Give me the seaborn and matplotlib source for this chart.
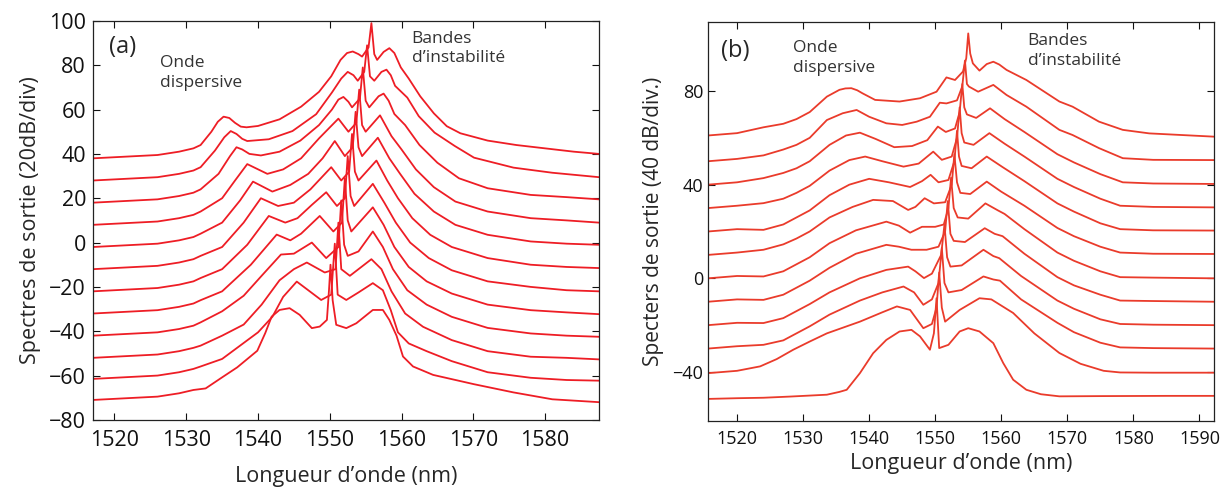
import pandas as pd
import matplotlib
matplotlib.use("Agg")
import matplotlib.pyplot as plt
import seaborn as sns

# ---- panel (a): 12 stacked spectra, 20 dB/div ----
offset_a = [38, 28, 18, 8, -2, -12, -22, -32, -42, -52, -61.5, -71]
wl_a = [
    [1517, 1520, 1523, 1526, 1529, 1531, 1532, 1533.5, 1534.4, 1535.2, 1536, 1536.8, 1537.6, 1538.4, 1540, 1543, 1546, 1548.5, 1550.2, 1551.5, 1552.4, 1553.2, 1554, 1554.5, 1555.4, 1555.8, 1556.2, 1556.6, 1557.5, 1558.3, 1559, 1559.9, 1561, 1562.6, 1564.5, 1566.3, 1568.2, 1572, 1576, 1580, 1584, 1587.5],
    [1517, 1520, 1523, 1526, 1529, 1531, 1532, 1534, 1535.3, 1536.2, 1537, 1537.8, 1538.5, 1541.5, 1544.8, 1548.1, 1550.3, 1551.6, 1552.5, 1553.3, 1553.9, 1554.8, 1555.2, 1555.6, 1556.2, 1557.2, 1557.9, 1558.5, 1559.1, 1560.8, 1562.4, 1564.6, 1567.4, 1570.1, 1575.6, 1581, 1587.5],
    [1517, 1520, 1523, 1526, 1529, 1531, 1532, 1534.5, 1536.1, 1537, 1537.8, 1538.8, 1540.4, 1543, 1545.9, 1548.5, 1550.3, 1551.2, 1551.9, 1552.6, 1553.1, 1554.2, 1554.6, 1555, 1555.5, 1556.8, 1557.5, 1558.2, 1559, 1560.5, 1562.5, 1565, 1568, 1572, 1578, 1583, 1587.5],
    [1517, 1520, 1523, 1526, 1529, 1531, 1532, 1535, 1536.8, 1538.5, 1541.3, 1543.5, 1546, 1548.5, 1551.2, 1552.6, 1553.7, 1554.1, 1554.5, 1555, 1557, 1558.6, 1560, 1562, 1564.5, 1567.5, 1572, 1578, 1583, 1587.5],
    [1517, 1520, 1523, 1526, 1529, 1531, 1532, 1535, 1537.5, 1539.3, 1542, 1544.5, 1547, 1549, 1550.7, 1552.1, 1553.2, 1553.6, 1554, 1554.5, 1556.7, 1558.3, 1559.8, 1561.8, 1564.5, 1567.5, 1572, 1578, 1583, 1587.5],
    [1517, 1520, 1523, 1526, 1529, 1531, 1532, 1535, 1538, 1540.4, 1542.8, 1545, 1547.3, 1550.2, 1551.6, 1552.7, 1553.1, 1553.5, 1554, 1556.5, 1558, 1559.5, 1561.5, 1564, 1567, 1572, 1578, 1583, 1587.5],
    [1517, 1520, 1523, 1526, 1529, 1531, 1532, 1535, 1538.5, 1541.5, 1543.8, 1545.5, 1547.5, 1549.5, 1551, 1552.1, 1552.5, 1552.9, 1553.4, 1556, 1557.6, 1559.2, 1561.2, 1563.8, 1567, 1572, 1578, 1583, 1587.5],
    [1517, 1520, 1523, 1526, 1529, 1531, 1532, 1535, 1539, 1542.6, 1544.5, 1546, 1548.6, 1550.5, 1551.7, 1552.1, 1552.5, 1553, 1556, 1557.5, 1559, 1561, 1563.5, 1567, 1572, 1578, 1583, 1587.5],
    [1517, 1520, 1523, 1526, 1529, 1531, 1532, 1535, 1538, 1540.5, 1543.2, 1545, 1547.5, 1549.5, 1551.2, 1551.6, 1552, 1552.5, 1554, 1556, 1557.4, 1558.8, 1560.8, 1563.5, 1567, 1572, 1578, 1583, 1587.5],
    [1517, 1520, 1523, 1526, 1529, 1531, 1532, 1535, 1538, 1540.5, 1543, 1545, 1546.8, 1549.3, 1550.8, 1551.2, 1551.6, 1552.8, 1555.8, 1557.2, 1558.6, 1560.5, 1563, 1567, 1572, 1578, 1583, 1587.5],
    [1517, 1520, 1523, 1526, 1529, 1531, 1532, 1535, 1537.5, 1540, 1542, 1543.5, 1545.4, 1547, 1548.8, 1550.2, 1550.7, 1551.1, 1552.3, 1554, 1556, 1557.4, 1558.5, 1559.5, 1561, 1563.5, 1567, 1572, 1578, 1583, 1587.5],
    [1517, 1520, 1523, 1526, 1529, 1531, 1532.7, 1535, 1537.1, 1539.9, 1541, 1541.9, 1543, 1544.4, 1545.8, 1547.5, 1548.6, 1549.6, 1549.9, 1550.1, 1550.4, 1550.9, 1552.3, 1553.7, 1556, 1557.4, 1558.3, 1559.3, 1560.2, 1561.6, 1564.4, 1570.1, 1575.6, 1581, 1587.5],
]
rel_a = [
    [0, 0.5, 1, 1.5, 3, 4.5, 6, 12, 16.5, 18.8, 18.2, 16, 14.3, 14, 14.6, 17.6, 23.3, 30, 37, 44.4, 47.5, 48.2, 47, 45.9, 50, 61, 47, 44.4, 48, 49.7, 47.5, 41, 36, 28, 20.3, 14.5, 11.3, 8, 6, 4.5, 3, 2],
    [0, 0.5, 1, 1.5, 3, 4.5, 6, 13.5, 19.5, 22.3, 21, 18.8, 17.8, 18.6, 22.3, 29.9, 39.7, 46, 49, 47.5, 45, 49, 61, 47, 45, 49, 50, 47.5, 42.7, 37.4, 29, 21.6, 15.6, 10.3, 5.8, 3.5, 1.5],
    [0, 0.5, 1, 1.5, 3, 4.5, 6, 13, 21, 25, 24, 22, 21.3, 23, 28, 35, 42, 46.5, 47.7, 45.5, 43, 47, 61, 46, 43, 48, 49.2, 46, 40, 35, 26, 18, 11, 6.5, 3.5, 2.5, 1.5],
    [0, 0.5, 1, 1.5, 3, 4.5, 6, 12, 20, 27.4, 23, 25, 30, 39, 47.9, 42, 46, 61, 45, 42, 49.4, 40, 34, 25, 17, 10.5, 6, 3, 2, 1],
    [0, 0.5, 1, 1.5, 3, 4.5, 6, 11, 21, 29.5, 25, 28, 33, 40, 47.8, 41, 45, 61, 45, 41, 49.3, 40, 33, 24, 16, 10, 5.5, 2.5, 1.5, 1],
    [0, 0.5, 1, 1.5, 3, 4.5, 6, 10, 21, 32, 28.5, 30, 36, 46, 40, 44, 61, 44, 40, 49, 40, 32, 23, 15.5, 10, 5, 2, 1, 0.5],
    [0, 0.5, 1, 1.5, 3, 4.5, 6, 10, 21, 34, 31, 33, 39, 44.7, 38.5, 42, 61, 43, 38.5, 48.5, 40, 31, 22, 15, 9.5, 4.5, 2, 0.5, 0],
    [0, 0.5, 1, 1.5, 3, 4.5, 6, 10, 22, 35.6, 33, 36, 44, 37, 41, 61, 42, 37, 47.9, 40, 30, 21, 14.5, 9, 4, 1.5, 0.5, -0.3],
    [0, 0.5, 1, 1.5, 3, 4.5, 6, 11, 18, 27, 36.6, 37, 42, 35, 40, 61, 41, 36, 38, 47, 40, 30, 20.5, 14, 8.5, 3.5, 1, 0, -0.5],
    [0, 0.5, 1, 1.5, 3, 4.5, 5.5, 10, 15, 24, 35, 40, 43, 38.5, 40, 61, 40, 37, 44.5, 40, 30, 20, 14, 8, 3, 0.5, 0, -0.7],
    [0, 0.5, 1, 1.5, 3, 4.5, 5.6, 9, 15, 21, 28, 37, 43.9, 40, 35.6, 38, 61, 38, 35.6, 39, 43.2, 40, 31, 21, 16, 12.5, 8, 3, 0.5, -0.5, -0.8],
    [0, 0.5, 1, 1.5, 3, 4.5, 5.2, 10.2, 14.7, 22.2, 30.1, 37.6, 40.6, 41.4, 38.4, 32.4, 33.1, 36.1, 50, 61, 45, 33.9, 32.4, 34.6, 40.6, 40.6, 36.1, 29, 19.6, 15.1, 11.3, 7.1, 3.4, 0.3, -1],
]

# ---- panel (b): 12 stacked spectra, 40 dB/div ----
offset_b = [61, 50, 40, 30, 20, 10, 0, -10, -20, -30, -40.5, -51.5]
wl_b = [
    [1515.6, 1520, 1524, 1527, 1529, 1531, 1533.6, 1535.5, 1536.4, 1537.3, 1538.2, 1539, 1540.9, 1544.6, 1547.7, 1550.2, 1551.7, 1553, 1554.2, 1554.7, 1555, 1555.3, 1555.7, 1556.7, 1557.8, 1558.8, 1559.7, 1560.8, 1563.8, 1568.8, 1570.8, 1574.8, 1578.4, 1582.4, 1592.2],
    [1515.6, 1520, 1524, 1527, 1529, 1531, 1533.6, 1536, 1538.1, 1540, 1542.6, 1545, 1547.2, 1549.2, 1550.7, 1551.7, 1553.3, 1554.1, 1554.5, 1554.8, 1555.1, 1556.5, 1558.8, 1560.8, 1563.8, 1568.8, 1570.8, 1574.8, 1578.4, 1583, 1592.2],
    [1515.6, 1520, 1524, 1527, 1529, 1531, 1534, 1536.5, 1538.6, 1541, 1543.8, 1546.5, 1548.8, 1550.4, 1551.6, 1553, 1553.7, 1554.1, 1554.4, 1554.8, 1556.2, 1558.3, 1560.5, 1563.5, 1568.5, 1571, 1575, 1578.4, 1583, 1592.2],
    [1515.6, 1520, 1524, 1527, 1529, 1531, 1534, 1537, 1539.4, 1542, 1545.2, 1547.5, 1549.7, 1551, 1552.5, 1553.3, 1553.7, 1554, 1554.4, 1555.8, 1558.2, 1560.5, 1563.5, 1568.5, 1571, 1575, 1578, 1583, 1592.2],
    [1515.6, 1520, 1524, 1527, 1529, 1531, 1534, 1537, 1540, 1543, 1546.2, 1548, 1549.3, 1550.5, 1552, 1552.9, 1553.3, 1553.6, 1554, 1555.5, 1557.8, 1560.2, 1563.5, 1568.5, 1571, 1575, 1578, 1583, 1592.2],
    [1515.6, 1520, 1524, 1527, 1529, 1531, 1534, 1537.5, 1540.6, 1543.6, 1545.9, 1547, 1548.4, 1549.8, 1551.5, 1552.5, 1552.9, 1553.3, 1553.8, 1555.3, 1557.8, 1560, 1563.5, 1568.5, 1571, 1575, 1578, 1583, 1592.2],
    [1515.6, 1520, 1524, 1527, 1529, 1531, 1534, 1538, 1542.6, 1544.5, 1546.2, 1548, 1550, 1551.3, 1552, 1552.4, 1552.8, 1553.4, 1555, 1557.6, 1559.5, 1560.5, 1563.5, 1568.5, 1571, 1575, 1578, 1583, 1592.2],
    [1515.6, 1520, 1524, 1527, 1529, 1531, 1534, 1538, 1542.6, 1544.5, 1546.4, 1548.7, 1550.5, 1551.5, 1551.9, 1552.3, 1552.8, 1554.5, 1557.5, 1559, 1560.2, 1563.5, 1568.5, 1571, 1575, 1578, 1583, 1592.2],
    [1515.6, 1520, 1524, 1527, 1529, 1531, 1534, 1538.6, 1542.6, 1545.9, 1547, 1548.3, 1549.5, 1550.9, 1551.4, 1551.8, 1552.3, 1554, 1557.3, 1558.8, 1559.7, 1563, 1568.5, 1571, 1575, 1578, 1583, 1592.2],
    [1515.6, 1520, 1524, 1527, 1529, 1531, 1534, 1538.6, 1542, 1545.2, 1546.8, 1548.2, 1549.5, 1550.5, 1551, 1551.4, 1552, 1554, 1557.3, 1558.8, 1559.8, 1563, 1568.5, 1571, 1575, 1578, 1583, 1592.2],
    [1515.6, 1520, 1523.5, 1526, 1528.5, 1531, 1533.6, 1538.6, 1542, 1544.2, 1546.2, 1548.2, 1549.5, 1550.2, 1550.6, 1551, 1551.5, 1553.7, 1556.7, 1558.5, 1561.8, 1565, 1568.8, 1572, 1575.5, 1578, 1583, 1592.2],
    [1515.6, 1520, 1524, 1528, 1533.6, 1535.5, 1536.6, 1538.6, 1540.6, 1542.6, 1544.6, 1546.4, 1547.7, 1549.2, 1549.8, 1550.2, 1550.6, 1552, 1553.7, 1555, 1556.7, 1558.8, 1560.3, 1561.8, 1563.8, 1566, 1568.8, 1575, 1585, 1592.2],
]
rel_b = [
    [0, 1, 3.5, 5, 7, 10, 16.6, 19.5, 20.1, 20.2, 19.3, 18, 15.2, 14.5, 15.9, 18.7, 24.8, 23.7, 27.3, 33, 43.6, 35, 30.8, 27.7, 30.5, 31.5, 30.3, 28, 23.7, 14.5, 12.3, 5.9, 2.4, 0.9, -0.5],
    [0, 1, 2.5, 5, 7, 10, 17.6, 20.5, 21.9, 19, 16.2, 15.5, 16.9, 19, 25, 24.7, 26, 32, 43, 33, 31.9, 29.7, 32.6, 28.3, 23.3, 13.4, 11.2, 5.6, 1.3, 0.6, 0.5],
    [0, 1, 2.8, 5, 7, 10, 17, 21, 22.2, 19.5, 16, 16.5, 19, 24.8, 22.5, 24, 31, 43, 33, 30, 28.5, 32.6, 28, 22.5, 13, 9.5, 4.5, 1, 0.5, 0.3],
    [0, 1, 2.1, 4, 6.5, 9.5, 16, 20.5, 22, 20, 17.7, 19, 24.1, 20.6, 22, 30, 43, 32, 28, 27, 32, 27.5, 22, 12.5, 9, 4, 1, 0.5, 0.3],
    [0, 1, 0.7, 3, 6, 9, 15.5, 20, 22.5, 21, 19, 21.5, 24.2, 21, 22, 30, 43, 32, 28, 27, 32, 27.5, 21.5, 12, 8.5, 3.5, 1, 0.5, 0.4],
    [0, 1, 2.2, 4.5, 7, 10, 16, 20.5, 23.5, 23, 19.2, 20.5, 24.2, 22, 22.5, 30, 43, 31, 26.5, 26, 31.3, 27, 21, 11.5, 8, 3.5, 1, 0.5, 0.4],
    [0, 1, 0.8, 3, 6, 9, 15, 20.5, 24.2, 22.5, 19.5, 22, 22, 23, 30, 43, 30, 26, 25.5, 32, 29, 27.5, 21, 11, 7.5, 3, 0.5, 0.3, 0],
    [0, 1, 0.8, 3, 6, 9, 14.5, 20.5, 24.3, 23.5, 22.2, 22.2, 23.5, 30, 43, 29, 26, 25.5, 31.4, 29, 28, 20.5, 10.5, 7, 3, 0.5, 0.3, 0],
    [0, 1, 0.9, 3, 6, 9, 14, 20, 23.6, 25, 23, 20.1, 22, 30, 43, 29, 25, 25.5, 32.2, 29.5, 28.6, 21, 10.5, 7, 2.5, 0.5, 0.2, 0],
    [0, 1, 1.6, 3.5, 6.5, 9.5, 14.5, 20.5, 24, 26.5, 24, 18.7, 21, 28, 43, 28, 24, 25, 30.8, 29.5, 29, 21, 11, 7, 2.5, 0.5, 0.2, 0],
    [0, 1, 2.9, 6, 10, 13.5, 17, 22, 26, 28.5, 27, 19.2, 21, 28, 43, 28, 22, 27, 32, 31.5, 25.7, 17, 8.6, 4, 1, 0.3, 0.2, 0.2],
    [0, 0.3, 0.5, 1, 1.8, 3, 3.9, 11, 19.5, 25.2, 28.8, 29.5, 26.7, 21, 28, 43, 21.7, 23.1, 28.8, 30.2, 28.8, 23.8, 15.3, 8.2, 3.9, 2, 1.1, 1.2, 1.3, 1.3],
]

xticks_a = [1520, 1530, 1540, 1550, 1560, 1570, 1580]
yticks_a = [-80, -60, -40, -20, 0, 20, 40, 60, 80, 100]
xticks_b = [1520, 1530, 1540, 1550, 1560, 1570, 1580, 1590]
yticks_b = [-40, 0, 40, 80]


def to_frame(offsets, wls, rels):
    rows = []
    for i, (off, xs, ys) in enumerate(zip(offsets, wls, rels)):
        for x, y in zip(xs, ys):
            rows.append({"curve": i, "wl": x, "level": off + y})
    return pd.DataFrame(rows)


def style_axes(ax, tick_size):
    for s in ax.spines.values():
        s.set_linewidth(0.9)
        s.set_color("#222222")
    ax.tick_params(direction="in", top=True, right=True, length=5, width=0.8,
                   labelsize=tick_size, colors="#111111")


def main():
    sns.set_theme(style="ticks")
    plt.rcParams["font.family"] = ["Open Sans", "DejaVu Sans"]
    plt.rcParams["axes.unicode_minus"] = True

    fig = plt.figure(figsize=(12.23, 4.94), dpi=100)
    ax_a = fig.add_axes([0.076, 0.150, 0.4137, 0.8077])
    ax_b = fig.add_axes([0.5789, 0.1484, 0.4137, 0.8077])

    df_a = to_frame(offset_a, wl_a, rel_a)
    df_b = to_frame(offset_b, wl_b, rel_b)

    sns.lineplot(data=df_a, x="wl", y="level", units="curve", estimator=None,
                 color="#ee1d25", linewidth=1.3, ax=ax_a, legend=False)
    sns.lineplot(data=df_b, x="wl", y="level", units="curve", estimator=None,
                 color="#ea3b2b", linewidth=1.3, ax=ax_b, legend=False)

    # panel (a)
    ax_a.set_xlim(1517, 1587.5)
    ax_a.set_ylim(-80, 100)
    ax_a.set_xticks(xticks_a)
    ax_a.set_yticks(yticks_a)
    style_axes(ax_a, 15.5)
    ax_a.tick_params(axis="x", pad=7)
    ax_a.tick_params(axis="y", pad=5)
    ax_a.set_xlabel("Longueur d’onde (nm)", fontsize=15.5, labelpad=11)
    ax_a.set_ylabel("Spectres de sortie (20dB/div)", fontsize=15.5, labelpad=6)
    ax_a.text(1519.2, 88, "(a)", fontsize=17, va="center", ha="left")
    ax_a.text(1526.3, 84.5, "Onde\ndispersive", fontsize=12.5, va="top", ha="left",
              color="#333333", linespacing=1.3)
    ax_a.text(1561.4, 95.5, "Bandes\nd’instabilité", fontsize=12.5, va="top", ha="left",
              color="#333333", linespacing=1.3)

    # panel (b)
    ax_b.set_xlim(1515.6, 1592.2)
    ax_b.set_ylim(-60.8, 109.6)
    ax_b.set_xticks(xticks_b)
    ax_b.set_yticks(yticks_b)
    style_axes(ax_b, 13)
    ax_b.tick_params(axis="x", pad=7)
    ax_b.set_xlabel("Longueur d’onde (nm)", fontsize=15.5, labelpad=3)
    ax_b.set_ylabel("Specters de sortie (40 dB/div.)", fontsize=15, labelpad=6)
    ax_b.text(1517.5, 97, "(b)", fontsize=17, va="center", ha="left")
    ax_b.text(1528.4, 101.8, "Onde\ndispersive", fontsize=12.5, va="top", ha="left",
              color="#333333", linespacing=1.3)
    ax_b.text(1564, 104.8, "Bandes\nd’instabilité", fontsize=12.5, va="top", ha="left",
              color="#333333", linespacing=1.3)

    fig.savefig("out.png", dpi=100)


if __name__ == "__main__":
    main()
